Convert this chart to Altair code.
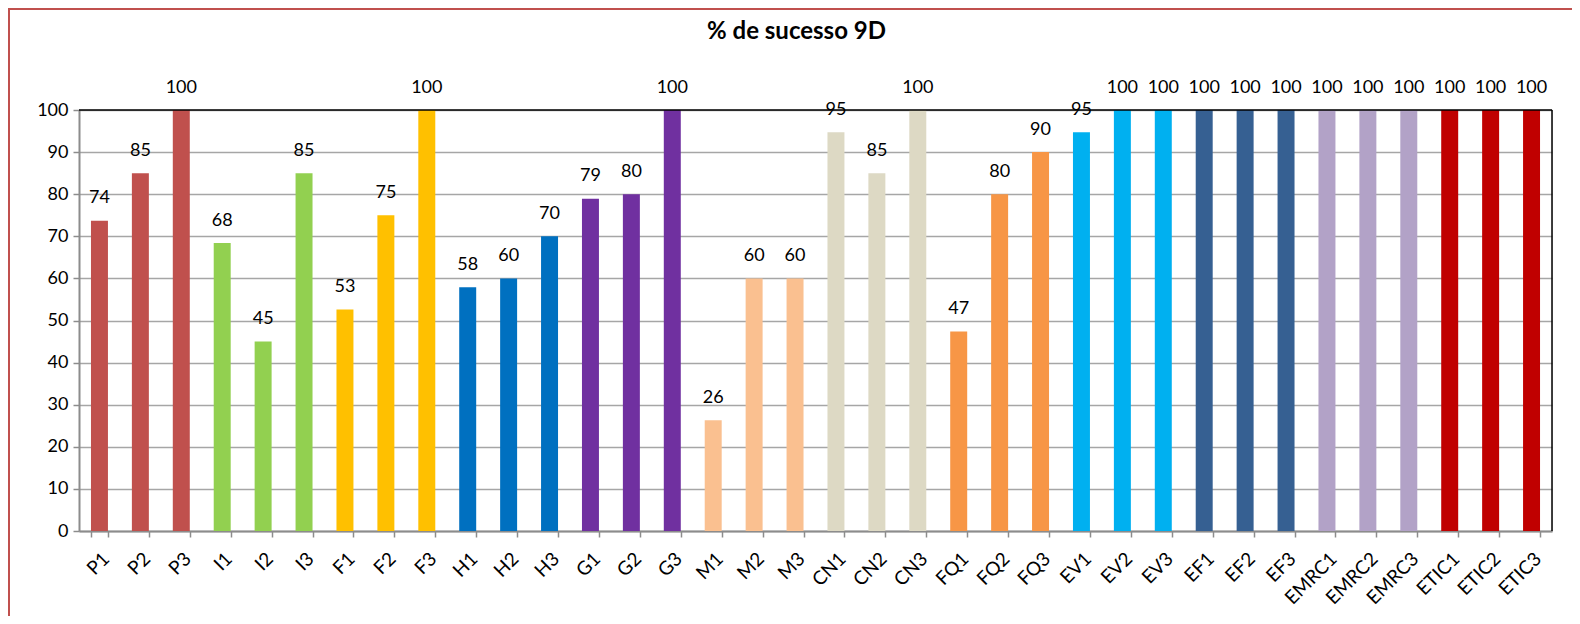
import altair as alt
import pandas as pd

categories = ["P1", "P2", "P3", "I1", "I2", "I3", "F1", "F2", "F3",
              "H1", "H2", "H3", "G1", "G2", "G3", "M1", "M2", "M3",
              "CN1", "CN2", "CN3", "FQ1", "FQ2", "FQ3", "EV1", "EV2", "EV3",
              "EF1", "EF2", "EF3", "EMRC1", "EMRC2", "EMRC3",
              "ETIC1", "ETIC2", "ETIC3"]
values = [73.7, 85, 100, 68.4, 45, 85, 52.6, 75, 100,
          57.9, 60, 70, 78.9, 80, 100, 26.3, 60, 60,
          94.7, 85, 100, 47.4, 80, 90, 94.7, 100, 100,
          100, 100, 100, 100, 100, 100,
          100, 100, 100]
groups = ["P", "I", "F", "H", "G", "M", "CN", "FQ", "EV", "EF", "EMRC", "ETIC"]
group_colors = ["#c0504d", "#92d050", "#ffc000", "#0070c0", "#7030a0", "#fac090",
                "#ddd9c4", "#f79646", "#00b0f0", "#366092", "#b2a2c7", "#c00000"]
title_text = "% de sucesso 9D"

df = pd.DataFrame({
    "cat": categories,
    "v": values,
    "grp": [c.rstrip("0123456789") for c in categories],
})

W, H = 1473, 421
FONT = "Lato"

x_enc = alt.X("cat:N", sort=categories, title=None,
              scale=alt.Scale(paddingInner=0.585, paddingOuter=0.2925),
              axis=alt.Axis(labelAngle=-45, labelFont=FONT, labelFontSize=19,
                            labelColor="black", labelPadding=12,
                            tickBand="extent", tickSize=6, tickColor="#8c8c8c",
                            tickWidth=1.5, domainColor="#8c8c8c", domainWidth=2,
                            grid=False))
y_enc = alt.Y("v:Q", title=None,
              scale=alt.Scale(domain=[0, 100], nice=False),
              axis=alt.Axis(values=list(range(0, 101, 10)), labelFont=FONT,
                            labelFontSize=18, labelColor="black", labelPadding=5,
                            tickSize=6, tickColor="#8c8c8c", tickWidth=1.5,
                            domainColor="#8c8c8c", domainWidth=2,
                            grid=True, gridColor="#a6a6a6", gridWidth=1.5))

base = alt.Chart(df)
bars = base.mark_bar().encode(
    x=x_enc, y=y_enc,
    color=alt.Color("grp:N", scale=alt.Scale(domain=groups, range=group_colors), legend=None),
)
labels = base.mark_text(font=FONT, fontSize=18, color="black",
                        baseline="alphabetic", dy=-17.5).encode(
    x=alt.X("cat:N", sort=categories),
    y="v:Q",
    text=alt.Text("v:Q", format=".0f"),
)

one = alt.Data(values=[{"t": title_text}])
top_rule = alt.Chart(one).mark_rule(color="black", strokeWidth=1.5).encode(
    x=alt.value(0), x2=alt.value(W), y=alt.value(0))
right_rule = alt.Chart(one).mark_rule(color="black", strokeWidth=1.5).encode(
    x=alt.value(W), y=alt.value(0), y2=alt.value(H))
title = alt.Chart(one).mark_text(font=FONT, fontSize=24, fontWeight="bold",
                                 color="black", baseline="alphabetic",
                                 align="center").encode(
    x=alt.value(W / 2 - 19), y=alt.value(-71), text="t:N")
border = alt.Chart(one).mark_rect(fill="transparent", stroke="#c0504d",
                                  strokeWidth=2).encode(
    x=alt.value(-70), x2=alt.value(W + 200), y=alt.value(-101), y2=alt.value(H + 200))

chart = alt.layer(bars, labels, top_rule, right_rule, title, border).properties(
    width=W, height=H,
    autosize=alt.AutoSizeParams(type="none"),
    padding={"left": 71, "top": 102, "right": 20, "bottom": 85},
).configure_view(stroke=None).configure(background="white")

chart.save("out.html", embed_options={"renderer": "svg", "actions": False})
